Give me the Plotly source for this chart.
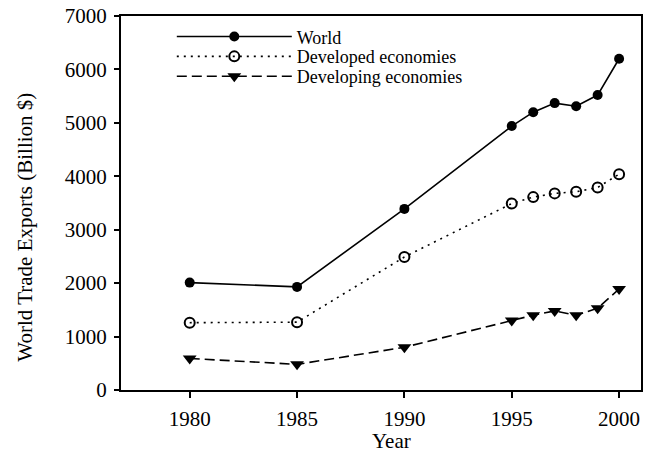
import plotly.graph_objects as go

years = [1980, 1985, 1990, 1995, 1996, 1997, 1998, 1999, 2000]
world = [2010, 1930, 3390, 4940, 5200, 5370, 5310, 5520, 6200]
developed = [1260, 1270, 2490, 3490, 3610, 3680, 3710, 3790, 4040]
developing = [590, 480, 800, 1300, 1400, 1480, 1400, 1530, 1890]

x_ticks = [1980, 1985, 1990, 1995, 2000]
y_ticks = [0, 1000, 2000, 3000, 4000, 5000, 6000, 7000]

FONT = "Liberation Serif"
W, H = 647, 455
PL, PR, PT, PB = 121, 643, 13, 390   # plot area in pixels
L, R, T, B = PL, W - PR, PT, H - PB
pw, ph = PR - PL, PB - PT

def px_x(p):
    return (p - PL) / pw

def px_y(p):
    return (PB - p) / ph

fig = go.Figure()
fig.add_trace(go.Scatter(
    x=years, y=world, name="World", mode="lines+markers",
    line=dict(color="black", width=1.6),
    marker=dict(symbol="circle", size=10, color="black"),
    legend="legend"))
fig.add_trace(go.Scatter(
    x=years, y=developed, name="Developed economies", mode="lines+markers",
    line=dict(color="black", width=1.6, dash="2px,5px"),
    marker=dict(symbol="circle-open", size=10, color="black", line=dict(width=2)),
    legend="legend2"))
fig.add_trace(go.Scatter(
    x=years, y=developing, name="Developing economies", mode="lines+markers",
    line=dict(color="black", width=1.6, dash="10px,5px"),
    marker=dict(symbol="triangle-down", size=12, color="black"),
    legend="legend3"))

def leg(yp):
    return dict(x=px_x(172), y=px_y(yp), xanchor="left", yanchor="middle",
                bgcolor="rgba(0,0,0,0)", itemwidth=115,
                font=dict(family=FONT, size=18, color="black"))

fig.update_layout(
    width=W, height=H,
    margin=dict(l=L, r=R, t=T, b=B, pad=0),
    paper_bgcolor="white", plot_bgcolor="white",
    font=dict(family=FONT, size=21, color="black"),
    showlegend=True,
    legend=leg(34), legend2=leg(54), legend3=leg(74),
    xaxis=dict(range=[1976.8, 2001.02], tickvals=x_ticks,
               showgrid=False, zeroline=False, showline=True, linewidth=2,
               linecolor="black", mirror=True, ticks="outside", ticklen=6,
               tickwidth=1.5, tickcolor="black", ticklabelstandoff=3,
               ticklabeloverflow="allow",
               tickfont=dict(family=FONT, size=21, color="black")),
    yaxis=dict(range=[0, 7000], tickvals=y_ticks,
               showgrid=False, zeroline=False, showline=True, linewidth=2,
               linecolor="black", mirror=True, ticks="outside", ticklen=5,
               tickwidth=1.5, tickcolor="black", ticklabelstandoff=3,
               ticklabeloverflow="allow",
               tickfont=dict(family=FONT, size=21, color="black")),
    annotations=[
        dict(text="World Trade Exports (Billion $)", textangle=-90,
             xref="paper", yref="paper", x=px_x(25), y=px_y(226),
             xanchor="center", yanchor="middle", showarrow=False,
             font=dict(family=FONT, size=21, color="black")),
        dict(text="Year", xref="paper", yref="paper",
             x=px_x(393), y=px_y(441), xanchor="center", yanchor="middle",
             showarrow=False, font=dict(family=FONT, size=21, color="black")),
    ],
)

fig.write_html("out.html", config={"displayModeBar": False},
               post_script="document.body.style.margin='0px';")
